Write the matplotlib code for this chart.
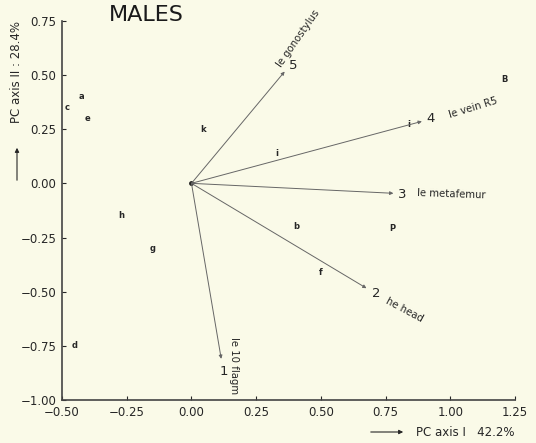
import numpy as np
import matplotlib
matplotlib.use('Agg')
from matplotlib import pyplot as plt

# specimen scores (letters)
pt_labels = ['c', 'a', 'e', 'k', 'h', 'g', 'd', 'b', 'P', 'f', 'i', 'B', 'i']
pt_x = [-0.48, -0.425, -0.40, 0.046, -0.27, -0.15, -0.45, 0.405, 0.775, 0.50, 0.33, 1.21, 0.84]
pt_y = [0.35, 0.40, 0.30, 0.25, -0.15, -0.30, -0.75, -0.20, -0.21, -0.41, 0.14, 0.48, 0.27]

# character vectors
vec_num = ['1', '2', '3', '4', '5']
vec_name = ['le 10 flagm', 'he head', 'le metafemur', 'le vein R5', 'le gonostylus']
vec_x = [0.115, 0.676, 0.78, 0.89, 0.36]
vec_y = [-0.81, -0.484, -0.046, 0.286, 0.516]

bg = '#fafae8'
ink = '#262626'

fig = plt.figure(figsize=(5.36, 4.43), dpi=100, facecolor=bg)
ax = fig.add_axes([0.1157, 0.097, 0.8453, 0.856])
ax.set_facecolor(bg)
ax.set_xlim(-0.5, 1.25)
ax.set_ylim(-1.0, 0.75)
ax.spines['top'].set_visible(False)
ax.spines['right'].set_visible(False)
ax.spines['left'].set_color('#444444')
ax.spines['bottom'].set_color('#444444')
ax.spines['left'].set_linewidth(1.2)
ax.spines['bottom'].set_linewidth(1.2)

xt = [-0.5, -0.25, 0.0, 0.25, 0.5, 0.75, 1.0, 1.25]
yt = [-1.0, -0.75, -0.5, -0.25, 0.0, 0.25, 0.5, 0.75]
ax.set_xticks(xt)
ax.set_yticks(yt)
ax.set_xticklabels(['%.2f' % v if v >= 0 else '\u2212%.2f' % abs(v) for v in xt])
ax.set_yticklabels(['%.2f' % v if v >= 0 else '\u2212%.2f' % abs(v) for v in yt])
ax.tick_params(direction='in', length=3, width=0.8, colors=ink, labelsize=8.5, pad=4)

# points
for lab, x, y in zip(pt_labels, pt_x, pt_y):
    ax.text(x, y, lab, fontsize=6, color=ink, ha='center', va='center', fontweight='bold')

# vectors
for x, y in zip(vec_x, vec_y):
    ax.annotate('', xy=(x, y), xytext=(0, 0),
                arrowprops=dict(arrowstyle='-|>', color='#666666', lw=0.7,
                                mutation_scale=5, shrinkA=0, shrinkB=0))
ax.plot([0], [0], 'o', color=ink, ms=2.5)

num_off = [(1.5, -9), (7, -4), (6.5, -1), (6.5, 2), (6, 4)]
name_off = [(9.5, -5), (27, -16), (42, -1), (37, 10), (10, 24)]
name_rot = [-90, -28, -2, 17, 55]
for n, nm, x, y, no, mo, r in zip(vec_num, vec_name, vec_x, vec_y, num_off, name_off, name_rot):
    ax.annotate(n, xy=(x, y), xytext=no, textcoords='offset points',
                fontsize=9.5, color=ink, ha='center', va='center')
    ax.annotate(nm, xy=(x, y), xytext=mo, textcoords='offset points',
                fontsize=7.3, color=ink, ha='center', va='center', rotation=r,
                rotation_mode='anchor')

fig.text(146 / 536, 1 - 15 / 443, 'MALES', fontsize=16, color='#1a1a1a',
         ha='center', va='center')

# axis captions with arrows
fig.text(17 / 536, 1 - 72 / 443, 'PC axis II : 28.4%', rotation=90, fontsize=8.5,
         color=ink, ha='center', va='center')
fig.add_artist(matplotlib.patches.FancyArrowPatch((17 / 536, 1 - 183 / 443), (17 / 536, 1 - 145 / 443),
               transform=fig.transFigure, arrowstyle='-|>', mutation_scale=6, lw=0.8, color=ink))
fig.text(416 / 536, 1 - 432 / 443, 'PC axis I   42.2%', fontsize=8.5,
         color=ink, ha='left', va='center')
fig.add_artist(matplotlib.patches.FancyArrowPatch((368 / 536, 1 - 432 / 443), (406 / 536, 1 - 432 / 443),
               transform=fig.transFigure, arrowstyle='-|>', mutation_scale=6, lw=0.8, color=ink))

fig.savefig('out.png', dpi=100, facecolor=bg)
